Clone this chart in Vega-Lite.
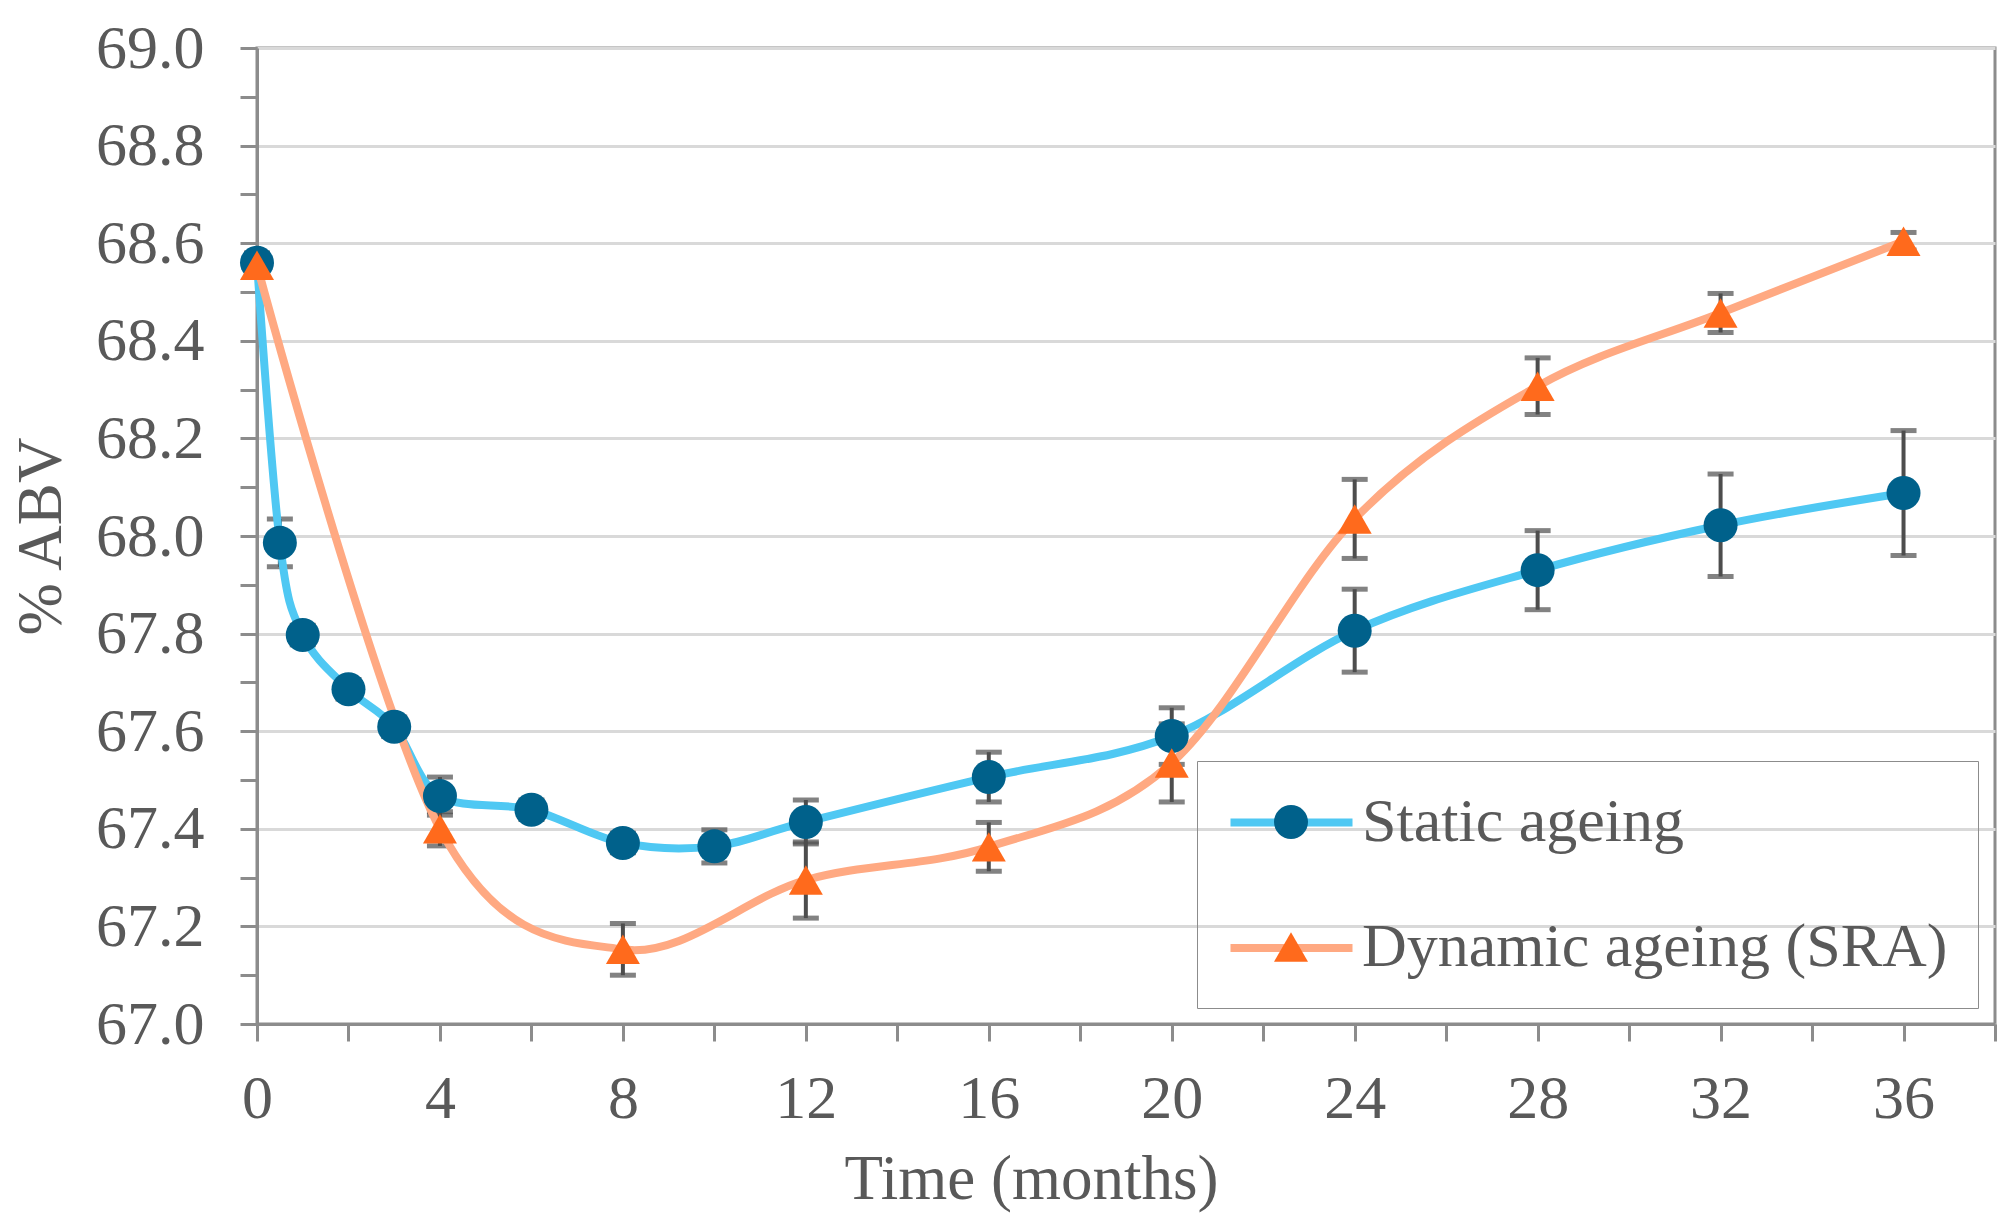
{
  "$schema": "https://vega.github.io/schema/vega-lite/v6.json",
  "width": 1738,
  "height": 976,
  "autosize": {"type": "none"},
  "padding": {"left": 257, "top": 48, "right": 17, "bottom": 207},
  "background": "white",
  "config": {
    "view": {"stroke": "#8c8c8c", "strokeWidth": 3},
    "font": "Liberation Serif"
  },
  "data": {
    "values": [
      {"series": "Static ageing", "t": 0, "v": 68.56, "e": 0.02},
      {"series": "Static ageing", "t": 0.5, "v": 67.986, "e": 0.049},
      {"series": "Static ageing", "t": 1, "v": 67.797, "e": 0.02},
      {"series": "Static ageing", "t": 2, "v": 67.686, "e": 0.02},
      {"series": "Static ageing", "t": 3, "v": 67.609, "e": 0.02},
      {"series": "Static ageing", "t": 4, "v": 67.467, "e": 0.039},
      {"series": "Static ageing", "t": 6, "v": 67.439, "e": 0.02},
      {"series": "Static ageing", "t": 8, "v": 67.371, "e": 0.02},
      {"series": "Static ageing", "t": 10, "v": 67.364, "e": 0.034},
      {"series": "Static ageing", "t": 12, "v": 67.414, "e": 0.045},
      {"series": "Static ageing", "t": 16, "v": 67.506, "e": 0.051},
      {"series": "Static ageing", "t": 20, "v": 67.59, "e": 0.058},
      {"series": "Static ageing", "t": 24, "v": 67.806, "e": 0.085},
      {"series": "Static ageing", "t": 28, "v": 67.93, "e": 0.081},
      {"series": "Static ageing", "t": 32, "v": 68.022, "e": 0.105},
      {"series": "Static ageing", "t": 36, "v": 68.088, "e": 0.128},
      {"series": "Dynamic ageing (SRA)", "t": 0, "v": 68.555, "e": 0},
      {"series": "Dynamic ageing (SRA)", "t": 4, "v": 67.40, "e": 0.035},
      {"series": "Dynamic ageing (SRA)", "t": 8, "v": 67.153, "e": 0.053},
      {"series": "Dynamic ageing (SRA)", "t": 12, "v": 67.295, "e": 0.078},
      {"series": "Dynamic ageing (SRA)", "t": 16, "v": 67.363, "e": 0.05},
      {"series": "Dynamic ageing (SRA)", "t": 20, "v": 67.535, "e": 0.08},
      {"series": "Dynamic ageing (SRA)", "t": 24, "v": 68.035, "e": 0.081},
      {"series": "Dynamic ageing (SRA)", "t": 28, "v": 68.307, "e": 0.058},
      {"series": "Dynamic ageing (SRA)", "t": 32, "v": 68.457, "e": 0.04},
      {"series": "Dynamic ageing (SRA)", "t": 36, "v": 68.604, "e": 0.018}
    ]
  },
  "encoding": {
    "x": {
      "field": "t",
      "type": "quantitative",
      "scale": {"domain": [0, 38], "nice": false, "zero": false},
      "axis": {
        "values": [0, 2, 4, 6, 8, 10, 12, 14, 16, 18, 20, 22, 24, 26, 28, 30, 32, 34, 36, 38],
        "labelExpr": "datum.value % 4 == 0 ? datum.label : ''",
        "grid": false,
        "domainColor": "#8c8c8c",
        "domainWidth": 3,
        "tickColor": "#8c8c8c",
        "tickWidth": 3,
        "tickSize": 17,
        "labelFont": "Liberation Serif",
        "labelFontSize": 62,
        "labelColor": "#595959",
        "labelPadding": 27,
        "labelFlush": false,
        "labelOverlap": false,
        "title": "Time (months)",
        "titleFont": "Liberation Serif",
        "titleFontSize": 63,
        "titleFontWeight": "normal",
        "titleColor": "#595959",
        "titleX": 774,
        "titleY": 174,
        "titleAlign": "center",
        "titleBaseline": "alphabetic"
      }
    },
    "y": {
      "field": "v",
      "type": "quantitative",
      "scale": {"domain": [67, 69], "nice": false, "zero": false},
      "axis": {
        "values": [67.0, 67.1, 67.2, 67.3, 67.4, 67.5, 67.6, 67.7, 67.8, 67.9, 68.0, 68.1, 68.2, 68.3, 68.4, 68.5, 68.6, 68.7, 68.8, 68.9, 69.0],
        "format": ".1f",
        "labelExpr": "round(datum.value * 10) % 2 == 0 ? datum.label : ''",
        "grid": true,
        "gridColor": "#d9d9d9",
        "gridWidth": 3,
        "gridOpacity": {"condition": {"test": "round(datum.value * 10) % 2 == 0", "value": 1}, "value": 0},
        "domainColor": "#8c8c8c",
        "domainWidth": 3,
        "tickColor": "#8c8c8c",
        "tickWidth": 3,
        "tickSize": 17,
        "labelFont": "Liberation Serif",
        "labelFontSize": 62,
        "labelColor": "#595959",
        "labelPadding": 36,
        "labelFlush": false,
        "labelOverlap": false,
        "title": "% ABV",
        "titleFont": "Liberation Serif",
        "titleFontSize": 63,
        "titleFontWeight": "normal",
        "titleColor": "#595959",
        "titleAngle": 270,
        "titleX": -197,
        "titleY": 488,
        "titleAlign": "center",
        "titleBaseline": "alphabetic"
      }
    }
  },
  "layer": [
    {
      "mark": {
        "type": "errorbar",
        "color": "#4d4d4d",
        "thickness": 4,
        "ticks": {"size": 26, "thickness": 5, "color": "#4d4d4d"}
      },
      "encoding": {
        "yError": {"field": "e"},
        "detail": {"field": "series"}
      }
    },
    {
      "mark": {"type": "line", "interpolate": "cardinal", "strokeWidth": 8},
      "encoding": {
        "stroke": {
          "field": "series",
          "type": "nominal",
          "scale": {"domain": ["Static ageing", "Dynamic ageing (SRA)"], "range": ["#4fc8f3", "#ffa982"]},
          "legend": {
            "orient": "none",
            "legendX": 969.5,
            "legendY": 709.5,
            "title": null,
            "symbolType": "stroke",
            "symbolSize": 14884,
            "symbolStrokeWidth": 8,
            "labelFont": "Liberation Serif",
            "labelFontSize": 60,
            "labelExpr": "''",
            "labelLimit": 0,
            "padding": 0,
            "rowPadding": 30.5,
            "zindex": 1
          }
        }
      }
    },
    {
      "mark": {"type": "point", "filled": true, "size": 1156, "opacity": 1, "strokeWidth": 0},
      "encoding": {
        "fill": {
          "field": "series",
          "type": "nominal",
          "sort": "descending",
          "scale": {"range": ["#00618b", "#ff6a1c"]},
          "legend": {
            "orient": "none",
            "legendX": 940,
            "legendY": 713,
            "title": null,
            "symbolSize": 1156,
            "symbolStrokeWidth": 0,
            "symbolOpacity": 1,
            "symbolOffset": 33,
            "labelFont": "Liberation Serif",
            "labelFontSize": 62,
            "labelColor": "#595959",
            "labelOffset": 40,
            "labelLimit": 0,
            "padding": 30,
            "rowPadding": 63,
            "strokeColor": "#8c8c8c",
            "zindex": 2
          }
        },
        "shape": {
          "field": "series",
          "type": "nominal",
          "sort": "descending",
          "scale": {"range": ["circle", "triangle-up"]},
          "legend": {
            "orient": "none",
            "legendX": 940,
            "legendY": 713,
            "title": null,
            "symbolSize": 1156,
            "symbolStrokeWidth": 0,
            "symbolOpacity": 1,
            "symbolOffset": 33,
            "labelFont": "Liberation Serif",
            "labelFontSize": 62,
            "labelColor": "#595959",
            "labelOffset": 40,
            "labelLimit": 0,
            "padding": 30,
            "rowPadding": 63,
            "strokeColor": "#8c8c8c",
            "zindex": 2
          }
        }
      }
    }
  ]
}
